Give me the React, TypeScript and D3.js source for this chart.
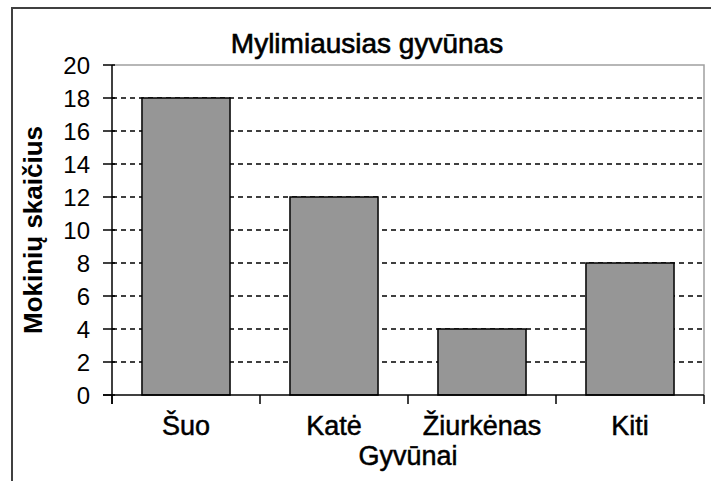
import * as d3 from 'd3';
import React, { useEffect, useRef } from 'react';

// chart data
const animals = ['Šuo', 'Katė', 'Žiurkėnas', 'Kiti'];
const pupils = [18, 12, 4, 8];
const yTicks = [0, 2, 4, 6, 8, 10, 12, 14, 16, 18, 20];

const title = 'Mylimiausias gyvūnas';
const xTitle = 'Gyvūnai';
const yTitle = 'Mokinių skaičius';

const App = () => {
    const svgRef = useRef<SVGSVGElement>(null);

    useEffect(() => {
        const width = 711;
        const height = 481;
        const plot = { left: 112, right: 704, top: 65, bottom: 395 };
        const font = '"Liberation Sans", Arial, sans-serif';

        const xScale = d3
            .scaleBand<string>()
            .domain(animals)
            .range([plot.left, plot.right])
            .paddingInner(0.405)
            .paddingOuter(0.2025);

        const yScale = d3
            .scaleLinear()
            .domain([0, 20])
            .range([plot.bottom, plot.top]);

        const svg = d3.select(svgRef.current);
        svg.selectAll('*').remove();
        svg.attr('width', width).attr('height', height);

        svg.append('rect')
            .attr('width', width)
            .attr('height', height)
            .attr('fill', '#fff');

        // outer frame (only top and left visible)
        svg.append('path')
            .attr('d', `M12,${height} L12,8 L${width},8`)
            .attr('fill', 'none')
            .attr('stroke', '#404040')
            .attr('stroke-width', 2);

        // plot border (top and right, grey)
        svg.append('path')
            .attr('d', `M${plot.left},${plot.top} L${plot.right},${plot.top} L${plot.right},${plot.bottom}`)
            .attr('fill', 'none')
            .attr('stroke', '#a0a0a0')
            .attr('stroke-width', 1.5);

        // dashed gridlines
        svg.append('g')
            .selectAll('line')
            .data(yTicks.filter(t => t > 0 && t < 20))
            .enter()
            .append('line')
            .attr('x1', plot.left)
            .attr('x2', plot.right)
            .attr('y1', d => yScale(d))
            .attr('y2', d => yScale(d))
            .attr('stroke', '#000')
            .attr('stroke-width', 1.3)
            .attr('stroke-dasharray', '5,4');

        // bars
        svg.append('g')
            .selectAll('rect')
            .data(pupils)
            .enter()
            .append('rect')
            .attr('x', (d, i) => xScale(animals[i]) as number)
            .attr('y', d => yScale(d))
            .attr('width', xScale.bandwidth())
            .attr('height', d => yScale(0) - yScale(d))
            .attr('fill', '#969696')
            .attr('stroke', '#000')
            .attr('stroke-width', 1.5);

        // y axis
        const yAxis = svg.append('g');
        yAxis.append('line')
            .attr('x1', plot.left).attr('x2', plot.left)
            .attr('y1', plot.top).attr('y2', plot.bottom + 9)
            .attr('stroke', '#000').attr('stroke-width', 1.5);
        yAxis.selectAll('line.tick')
            .data(yTicks)
            .enter()
            .append('line')
            .attr('class', 'tick')
            .attr('x1', plot.left - 9)
            .attr('x2', plot.left + 3)
            .attr('y1', d => yScale(d))
            .attr('y2', d => yScale(d))
            .attr('stroke', '#000')
            .attr('stroke-width', 1.5);
        yAxis.selectAll('text')
            .data(yTicks)
            .enter()
            .append('text')
            .attr('x', 90)
            .attr('y', d => yScale(d))
            .attr('dy', '0.36em')
            .attr('text-anchor', 'end')
            .style('font-family', font)
            .style('font-size', '24px')
            .text(d => d);

        // x axis
        const xAxis = svg.append('g');
        xAxis.append('line')
            .attr('x1', plot.left - 9).attr('x2', plot.right)
            .attr('y1', plot.bottom).attr('y2', plot.bottom)
            .attr('stroke', '#000').attr('stroke-width', 1.5);
        const half = (xScale.step() - xScale.bandwidth()) / 2;
        const bounds = animals.map(a => (xScale(a) as number) - half).concat([plot.right]);
        xAxis.selectAll('line.tick')
            .data(bounds)
            .enter()
            .append('line')
            .attr('class', 'tick')
            .attr('x1', d => d).attr('x2', d => d)
            .attr('y1', plot.bottom).attr('y2', plot.bottom + 9)
            .attr('stroke', '#000').attr('stroke-width', 1.5);
        xAxis.selectAll('text')
            .data(animals)
            .enter()
            .append('text')
            .attr('x', d => (xScale(d) as number) + xScale.bandwidth() / 2)
            .attr('y', 435)
            .attr('text-anchor', 'middle')
            .style('font-family', font)
            .style('font-size', '27px')
            .style('stroke', '#000')
            .style('stroke-width', '0.5px')
            .text(d => d);

        // titles
        svg.append('text')
            .attr('x', 367)
            .attr('y', 53)
            .attr('text-anchor', 'middle')
            .style('font-family', font)
            .style('font-size', '28px')
            .style('stroke', '#000')
            .style('stroke-width', '0.6px')
            .text(title);

        svg.append('text')
            .attr('x', (plot.left + plot.right) / 2)
            .attr('y', 465)
            .attr('text-anchor', 'middle')
            .style('font-family', font)
            .style('font-size', '27px')
            .style('stroke', '#000')
            .style('stroke-width', '0.5px')
            .text(xTitle);

        svg.append('text')
            .attr('transform', `translate(42,${(plot.top + plot.bottom) / 2}) rotate(-90)`)
            .attr('text-anchor', 'middle')
            .style('font-family', font)
            .style('font-size', '26px')
            .style('font-weight', 'bold')
            .text(yTitle);
    }, []);

    return (
        <svg ref={svgRef} style={{ position: 'absolute', left: 0, top: 0, display: 'block' }}></svg>
    );
};

export default App;
